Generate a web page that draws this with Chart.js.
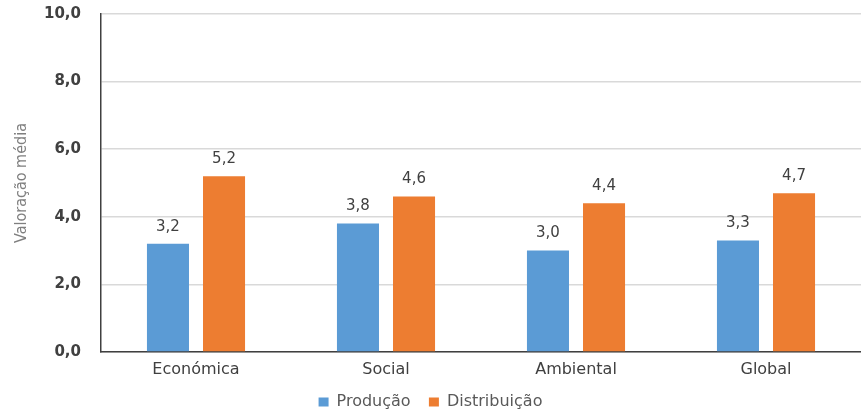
<!DOCTYPE html>
<html>
<head>
<meta charset="utf-8">
<script src="https://cdn.jsdelivr.net/npm/chart.js@4/dist/chart.umd.min.js"></script>
<style>
  html, body { margin: 0; padding: 0; background: #ffffff; }
  #wrap { width: 861px; height: 414px; position: relative; }
</style>
</head>
<body>
<div id="wrap"><canvas id="chart"></canvas></div>
<script>
const categories = ["Económica", "Social", "Ambiental", "Global"];
const producao = [3.2, 3.8, 3.0, 3.3];
const distribuicao = [5.2, 4.6, 4.4, 4.7];
const yTicks = [0, 2, 4, 6, 8, 10];

const textColor = "#404040";
const fontFamily = "'DejaVu Sans', Verdana, sans-serif";

function formatPt(value) {
  return value.toFixed(1).replace(".", ",");
}

// values above each bar
const valueLabels = {
  id: "valueLabels",
  afterDatasetsDraw(chart) {
    const ctx = chart.ctx;
    ctx.save();
    ctx.font = "15px " + fontFamily;
    ctx.fillStyle = textColor;
    ctx.textAlign = "center";
    ctx.textBaseline = "middle";
    chart.data.datasets.forEach((ds, i) => {
      const meta = chart.getDatasetMeta(i);
      meta.data.forEach((bar, j) => {
        ctx.fillText(formatPt(ds.data[j]), bar.x, bar.y - 17);
      });
    });
    ctx.restore();
  },
};

// push the legend a little lower, closer to the bottom edge
const legendNudge = {
  id: "legendNudge",
  afterLayout(chart) {
    if (chart.legend) {
      chart.legend.top += 6;
      chart.legend.bottom += 6;
    }
  },
};

new Chart(document.getElementById("chart"), {
  type: "bar",
  data: {
    labels: categories,
    datasets: [
      {
        label: "Produção",
        data: producao,
        backgroundColor: "#5B9BD5",
        categoryPercentage: 0.59,
        barPercentage: 0.75,
      },
      {
        label: "Distribuição",
        data: distribuicao,
        backgroundColor: "#ED7D31",
        categoryPercentage: 0.59,
        barPercentage: 0.75,
      },
    ],
  },
  options: {
    responsive: true,
    maintainAspectRatio: false,
    animation: false,
    layout: { padding: { top: 14, right: 0, bottom: 0, left: 0 } },
    plugins: {
      tooltip: { enabled: false },
      legend: {
        position: "bottom",
        labels: {
          color: "#595959",
          font: { family: fontFamily, size: 16 },
          boxWidth: 10,
          boxHeight: 9,
          padding: 3,
          generateLabels(chart) {
            const items = Chart.defaults.plugins.legend.labels.generateLabels(chart);
            items.forEach((item, i) => {
              if (i < items.length - 1) item.text += "   ";
              item.lineWidth = 0;
            });
            return items;
          },
        },
      },
    },
    scales: {
      x: {
        grid: { display: false, drawTicks: false },
        border: { color: "#404040", width: 1.5 },
        ticks: {
          color: textColor,
          font: { family: fontFamily, size: 16 },
          padding: 8,
        },
        afterFit(scale) {
          scale.height = 33;
        },
      },
      y: {
        min: 0,
        max: 10,
        afterBuildTicks(scale) {
          scale.ticks = yTicks.map((v) => ({ value: v }));
        },
        afterFit(scale) {
          scale.width = 101;
          scale.paddingTop = 0;
          scale.paddingBottom = 0;
        },
        grid: { color: "#d9d9d9", lineWidth: 1.5, drawTicks: false },
        border: { color: "#404040", width: 1.5 },
        ticks: {
          color: textColor,
          font: { family: fontFamily, size: 15, weight: "bold" },
          padding: 20,
          callback: (v) => formatPt(v),
        },
        title: {
          display: true,
          text: "Valoração média",
          color: "#7f7f7f",
          font: { family: "'Liberation Sans Narrow', 'DejaVu Sans Condensed', sans-serif", size: 16 },
          padding: { top: 12, bottom: 0 },
        },
      },
    },
  },
  plugins: [valueLabels, legendNudge],
});
</script>
</body>
</html>
